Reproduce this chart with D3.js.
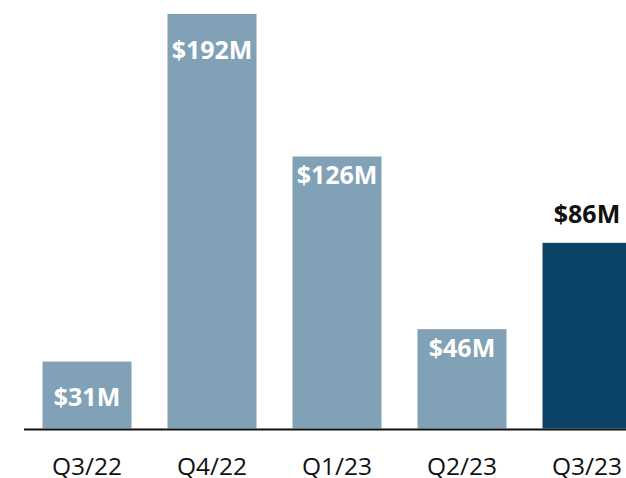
<!DOCTYPE html>
<html>
<head>
<meta charset="utf-8">
<script src="https://cdn.jsdelivr.net/npm/d3@7"></script>
<style>
  html, body { margin: 0; padding: 0; background: #fff; overflow: hidden; }
  svg { display: block; font-family: "Open Sans", sans-serif; }
</style>
</head>
<body>
<div id="container"></div>
<script>
// chart data
const quarters = ["Q3/22", "Q4/22", "Q1/23", "Q2/23", "Q3/23"];
const revenue = [31, 192, 126, 46, 86];
const labels = ["$31M", "$192M", "$126M", "$46M", "$86M"];

const width = 626;
const height = 478;
const baseY = 428.5;

// label offsets below the bar top (the last one sits above its bar)
const labelDy = [44, 45, 28, 28, -20];

const svg = d3.select("#container").append("svg")
    .attr("width", width)
    .attr("height", height);

const x = d3.scaleBand()
    .domain(quarters)
    .range([24, 650])
    .paddingInner(0.288)
    .paddingOuter(0.148);

const y = d3.scaleLinear()
    .domain([0, 192])
    .range([baseY, 14]);

// bars
svg.selectAll("rect.bar")
  .data(quarters)
  .join("rect")
    .attr("class", "bar")
    .attr("x", d => x(d))
    .attr("y", (d, i) => y(revenue[i]))
    .attr("width", x.bandwidth())
    .attr("height", (d, i) => baseY - y(revenue[i]))
    .attr("fill", (d, i) => i === quarters.length - 1 ? "#0b4366" : "#80a1b6");

// value labels
svg.selectAll("text.val")
  .data(quarters)
  .join("text")
    .attr("class", "val")
    .attr("x", d => x(d) + x.bandwidth() / 2)
    .attr("y", (d, i) => y(revenue[i]) + labelDy[i])
    .attr("text-anchor", "middle")
    .attr("font-size", 25)
    .attr("font-weight", "bold")
    .attr("fill", (d, i) => i === quarters.length - 1 ? "#111" : "#fff")
    .text((d, i) => labels[i]);

// baseline axis
const axis = svg.append("g")
    .attr("transform", `translate(0,${baseY + 1})`)
    .call(d3.axisBottom(x).tickSize(0).tickPadding(0));

axis.select(".domain")
    .attr("d", `M24,0H${width}`)
    .attr("stroke", "#111")
    .attr("stroke-width", 2);

axis.selectAll(".tick text")
    .attr("y", 45.5)
    .attr("dy", 0)
    .attr("font-family", "Open Sans, sans-serif")
    .attr("font-size", 24.5)
    .attr("fill", "#111");
</script>
</body>
</html>
